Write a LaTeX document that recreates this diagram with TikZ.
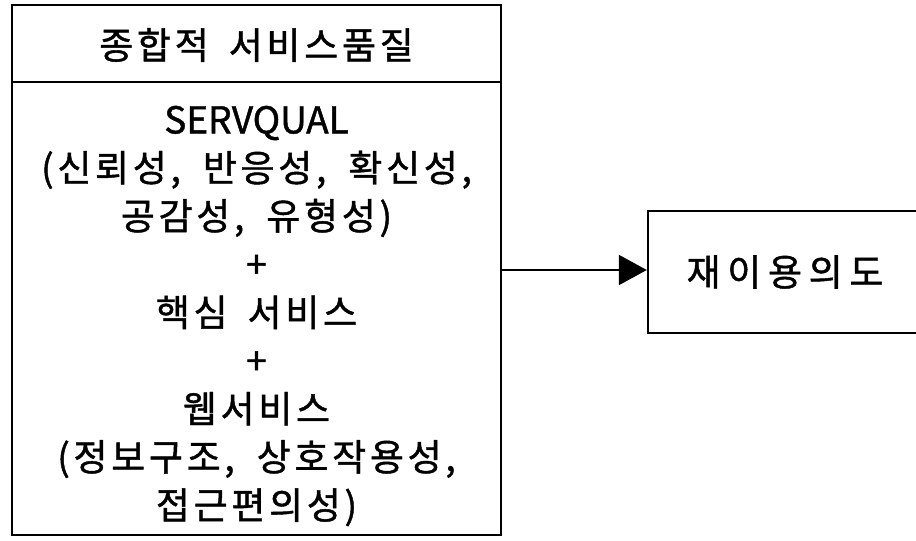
\documentclass[tikz,border=0pt]{standalone}
\usepackage{fontspec}
\setmainfont{Noto Sans CJK KR}[FakeBold=1.2]
\newfontfamily\titlefont{Noto Sans CJK KR}[FakeBold=1.2,LetterSpace=10]
\newfontfamily\bodyfont{Noto Sans CJK KR}[FakeBold=1.2,LetterSpace=10]
\newfontfamily\latinfont{Noto Sans CJK KR}[FakeBold=1.2]
\newfontfamily\rightfont{Noto Sans CJK KR}[FakeBold=1.2,LetterSpace=18]
\usetikzlibrary{arrows.meta}
\newcommand{\cs}{,\hspace{22pt}}
\begin{document}
\begin{tikzpicture}[x=1pt,y=-1pt,
  frame/.style={draw=black,line width=2.4pt,rectangle,inner sep=0pt},
  txt/.style={align=center,inner sep=0pt},
  conn/.style={line width=2.2pt,-{Triangle[length=28pt,width=30pt]}}]
\useasboundingbox (0,0) rectangle (916,541);
\node[frame,minimum width=489pt,minimum height=77pt] (H) at (256.5,43.5) {};
\node[frame,minimum width=489pt,minimum height=453pt] (B) at (256.5,308.5) {};
\node[txt,font=\titlefont\fontsize{37}{47.75}\selectfont] (Ht) at (256.5,45) {종합적\hspace{8pt} 서비스품질};
\node[txt,font=\bodyfont\fontsize{37}{48.2}\selectfont] (Bt) at (256.5,316) {{\latinfont SERVQUAL}\\(신뢰성\cs 반응성\cs 확신성,\\공감성\cs 유형성)\\+\\핵심\hspace{8pt} 서비스\\+\\웹서비스\\(정보구조\cs 상호작용성,\\접근편의성)};
\node[frame,minimum width=300pt,minimum height=122pt] (R) at (798,272) {};
\node[txt,font=\rightfont\fontsize{37}{47.75}\selectfont] (Rt) at (785,272) {재이용의도};
\draw[conn] (B.east |- 0,270) -- (R.west |- 0,270);
\end{tikzpicture}
\end{document}
